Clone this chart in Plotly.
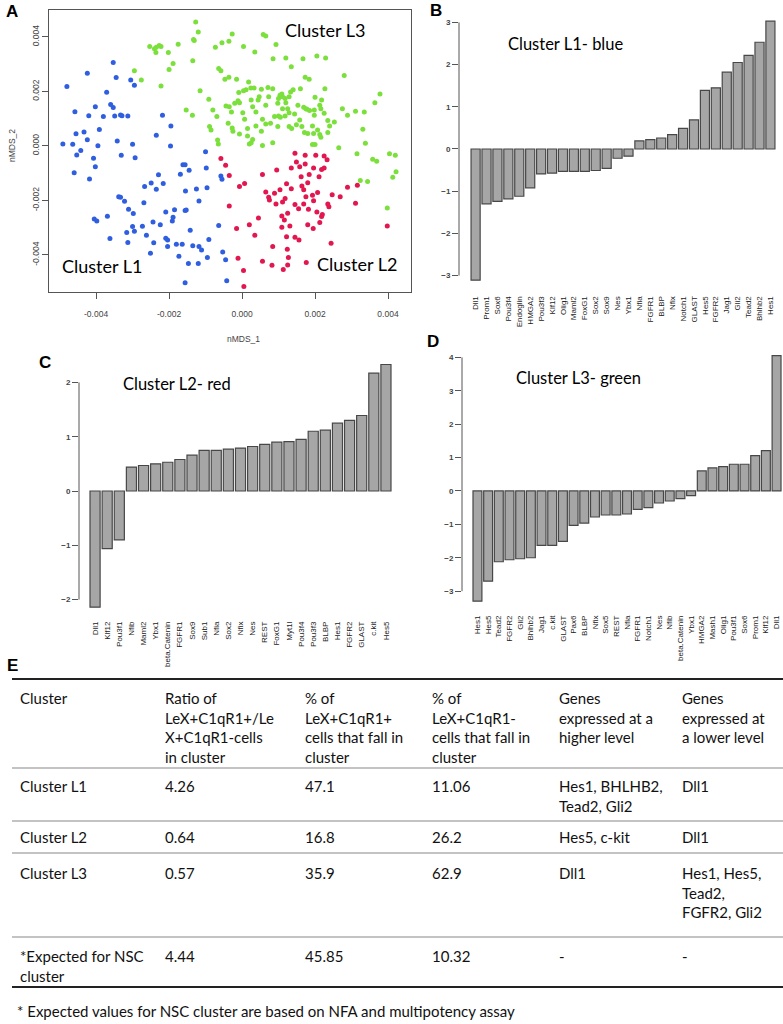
import plotly.graph_objects as go

# ---------------- DATA ----------------
# Panel A: nMDS coordinates (units of 1e-3)
blue_x = [-4.80,-4.24,-3.53,-3.45,-3.05,-2.95,-3.71,-4.58,-4.20,-4.02,
          -3.80,-3.60,-3.53,-3.49,-3.33,-3.29,-3.13,-2.18,-4.55,-4.33,
          -3.91,-4.24,-4.91,-4.64,-3.95,-3.42,-3.00,-4.53,-4.42,-4.07,
          -4.02,-4.60,-4.18,-3.31,-2.93,-2.35,-1.95,-1.96,-1.00,-1.62,
          -1.56,-1.69,-1.45,-2.29,-2.16,-2.67,-2.49,-2.35,-1.55,-1.25,
          -0.96,-0.98,-1.18,-0.58,-0.55,-3.38,-3.33,-3.22,-3.11,-2.98,
          -2.69,-1.85,-2.09,-1.89,-1.91,-1.53,-1.56,-3.69,-4.05,-3.98,
          -3.00,-2.95,-2.73,-3.16,-2.44,-2.24,-2.62,-2.42,-2.09,-2.04,
          -2.04,-1.80,-1.64,-1.42,-1.35,-1.18,-1.11,-3.62,-3.13,-2.51,
          -1.73,-1.47,-1.20,-0.95,-0.91,-0.53,-0.45,-0.42,-1.56,-0.64]
blue_y = [2.18,2.67,3.06,2.51,2.42,2.23,1.97,1.26,1.11,1.44,
          1.08,1.52,1.41,1.10,1.14,1.11,1.10,1.13,0.45,0.51,
          0.60,0.23,0.07,0.06,0.01,0.18,0.06,-0.33,-0.17,-0.45,
          -0.76,-0.98,-1.21,-0.34,-0.43,0.39,0.73,0.00,-0.21,-0.69,
          -0.69,-1.04,-0.89,-1.06,-1.38,-1.49,-1.36,-1.59,-1.65,-1.58,
          -1.53,-0.81,-2.02,-1.10,-1.22,-1.86,-1.88,-2.03,-2.32,-2.48,
          -2.08,-2.34,-2.42,-2.62,-2.75,-2.35,-2.37,-2.58,-2.68,-2.75,
          -2.96,-3.13,-2.95,-3.18,-2.79,-2.89,-3.28,-3.55,-3.39,-3.45,
          -3.69,-3.61,-3.61,-3.09,-3.66,-3.69,-3.82,-3.40,-3.54,-3.94,
          -4.05,-4.31,-4.31,-4.09,-3.43,-3.89,-4.18,-4.95,-5.02,-2.92]

red_x = [-0.58,-0.45,-0.35,-0.07,0.07,-0.35,-0.15,0.20,0.35,0.45,
         0.56,0.65,0.73,0.89,0.95,0.75,0.93,1.11,1.04,1.18,
         1.22,1.35,1.35,1.45,1.49,1.58,1.62,1.73,1.73,1.84,
         1.96,2.02,2.11,2.18,2.25,2.33,2.25,1.64,1.69,1.80,
         1.93,2.07,1.96,1.75,1.25,1.45,1.55,1.69,1.82,2.05,
         2.20,2.35,2.38,2.47,2.69,2.89,3.16,3.11,2.18,2.13,
         1.80,1.95,1.31,1.22,1.45,1.56,1.09,1.16,1.09,0.84,
         1.24,1.27,1.25,1.13,0.82,0.56,-0.11,0.04,0.05,1.76,
         2.44,3.98]
red_y = [-0.46,-0.71,-1.08,-1.49,-1.38,-2.20,-3.03,-2.89,-3.28,-2.64,
         -1.05,-1.69,-1.88,-1.74,-0.88,-1.98,-2.13,-2.06,-1.61,-1.93,
         -1.39,-1.57,-0.81,-0.27,-0.59,-0.76,-1.13,-0.34,-0.66,-1.05,
         -0.81,-0.34,-1.13,-0.86,-0.37,-0.51,-0.81,-1.47,-1.61,-1.35,
         -1.81,-1.71,-2.01,-1.86,-2.47,-2.15,-2.30,-2.13,-2.32,-2.42,
         -2.52,-2.13,-2.23,-1.79,-1.86,-1.52,-1.44,-2.10,-2.59,-2.81,
         -2.89,-3.03,-2.94,-3.33,-3.35,-3.45,-2.57,-2.72,-2.98,-3.69,
         -3.79,-4.09,-4.37,-4.53,-4.38,-4.23,-4.12,-4.57,-5.16,-4.28,
         -3.57,-2.94]

green_x = [-1.27,-1.20,-1.33,-1.31,-1.75,-2.27,-2.35,-2.22,-2.53,-2.40,
           -2.36,-2.02,-1.89,-2.00,-2.95,-2.76,-2.22,-1.35,-0.73,-0.55,
           -0.36,-0.27,-0.64,-0.58,-0.47,-0.36,-0.15,0.04,0.35,0.58,
           0.65,0.93,0.85,1.20,1.35,1.67,2.05,2.29,2.80,-1.15,
           -0.91,-1.53,-1.36,-0.44,-0.29,-0.20,-0.11,-0.09,0.04,0.11,
           0.18,0.24,0.33,0.53,0.71,0.84,0.73,1.00,1.04,1.11,
           1.18,1.09,1.20,1.33,1.40,1.60,1.84,1.73,2.27,1.53,
           1.69,1.78,1.85,1.98,2.13,2.16,2.00,2.18,2.25,1.25,
           1.11,1.00,0.89,1.05,1.18,1.29,1.44,0.65,0.44,0.29,
           0.38,0.56,0.02,-0.07,-0.35,-0.89,-0.85,-0.38,-0.25,-0.07,
           0.15,0.15,0.38,0.53,0.65,0.78,0.98,1.29,1.36,1.64,
           1.71,1.80,1.93,1.96,2.07,2.13,2.16,2.00,2.35,2.40,
           2.35,2.53,2.75,2.89,3.11,3.35,3.64,3.78,3.15,3.31,
           3.38,2.65,3.58,3.69,4.04,4.20,4.13,4.22,3.24,3.44,
           3.98,-0.67,-0.65,0.20,0.25,0.56,0.84,0.29,0.07,-0.80,
           -0.69,-0.27,1.93,1.98,1.75,1.58,1.49,1.29,0.98,0.47,
           0.25]
green_y = [4.55,4.18,3.91,3.87,3.73,3.69,3.62,3.65,3.65,3.57,
           3.43,3.43,3.03,2.81,2.76,2.42,2.20,3.13,3.62,3.79,
           3.84,4.11,2.84,2.76,2.45,2.52,2.45,3.65,3.45,4.09,
           4.04,3.72,3.20,3.23,2.91,3.20,3.30,3.23,2.59,2.03,
           1.71,1.32,1.13,1.47,1.25,1.57,1.66,1.96,2.03,2.06,
           2.35,2.13,2.13,2.08,2.15,2.10,1.81,1.74,1.86,1.81,
           1.74,1.91,1.59,1.98,2.06,2.10,2.45,2.52,2.10,1.49,
           1.42,1.35,1.30,1.32,1.49,1.37,1.79,1.69,1.20,1.37,
           1.37,1.10,1.08,1.05,1.10,1.22,1.17,1.49,1.69,1.44,
           1.25,0.98,1.22,1.59,1.44,0.71,0.59,0.83,0.54,0.44,
           0.64,0.37,0.73,0.54,0.81,0.83,0.71,0.71,0.64,0.71,
           0.49,0.46,0.73,0.46,0.59,0.42,0.32,0.05,0.93,0.73,
           0.49,0.88,1.37,1.13,1.27,1.25,1.59,1.91,-0.29,0.61,
           0.10,-0.07,-0.49,-0.56,-0.29,-0.34,-1.15,-0.95,-1.27,-1.30,
           -2.28,0.22,0.07,0.07,0.12,0.02,0.12,0.24,0.98,1.32,
           1.08,0.66,0.05,1.13,1.37,0.95,0.78,1.81,1.57,1.81,
           1.69]

mds_ticks = [-4, -2, 0, 2, 4]
mds_ticktext = ["-0.004", "-0.002", "0.000", "0.002", "0.004"]

# Panel B: Cluster L1
b_genes = ["Dll1","Prom1","Sox6","Pou3f4","Endoglin","HMGA2","Pou3f3","Klf12","Olig1","Maml2",
           "FoxG1","Sox2","Sox9","Nes","Ybx1","Nfia","FGFR1","BLBP","Nfix","Notch1",
           "GLAST","Hes5","FGFR2","Jag1","Gli2","Tead2","Bhlhb2","Hes1"]
b_vals = [-3.11,-1.30,-1.24,-1.18,-1.12,-0.92,-0.59,-0.57,-0.53,-0.53,
          -0.53,-0.51,-0.46,-0.22,-0.17,0.19,0.22,0.26,0.34,0.49,
          0.69,1.39,1.45,1.82,2.05,2.22,2.53,3.03]

# Panel C: Cluster L2
c_genes = ["Dll1","Klf12","Pou3f1","Nfib","Maml2","Ybx1","beta.Catenin","FGFR1","Sox9","Sub1",
           "Nfia","Sox2","Nfix","Nes","REST","FoxG1","Myt1l","Pou3f4","Pou3f3","BLBP",
           "Hes1","FGFR2","GLAST","c.kit","Hes5"]
c_vals = [-2.14,-1.06,-0.90,0.44,0.47,0.50,0.53,0.58,0.66,0.75,
          0.75,0.77,0.79,0.82,0.86,0.90,0.91,0.95,1.10,1.12,
          1.25,1.30,1.39,2.17,2.33]

# Panel D: Cluster L3
d_genes = ["Hes1","Hes5","Tead2","FGFR2","Gli2","Bhlhb2","Jag1","c.kit","GLAST","Pax6",
           "BLBP","Nfix","Sox5","REST","Nfia","FGFR1","Notch1","Nes","Nfib","beta.Catenin",
           "Ybx1","HMGA2","Mash1","Olig1","Pou3f1","Sox6","Prom1","Klf12","Dll1"]
d_vals = [-3.30,-2.70,-2.12,-2.06,-2.03,-2.00,-1.63,-1.63,-1.51,-1.03,
          -0.96,-0.78,-0.72,-0.72,-0.69,-0.55,-0.50,-0.36,-0.30,-0.23,
          -0.14,0.60,0.69,0.73,0.80,0.80,1.06,1.21,4.05]

# Panel E: table
table_header = ["Cluster",
                "Ratio of<br>LeX+C1qR1+/Le<br>X+C1qR1-cells<br>in cluster",
                "% of<br>LeX+C1qR1+<br>cells that fall in<br>cluster",
                "% of<br>LeX+C1qR1-<br>cells that fall in<br>cluster",
                "Genes<br>expressed at a<br>higher level",
                "Genes<br>expressed at<br>a lower level"]
table_rows = [
    ["Cluster L1", "4.26", "47.1", "11.06", "Hes1, BHLHB2,<br>Tead2, Gli2", "Dll1"],
    ["Cluster L2", "0.64", "16.8", "26.2", "Hes5, c-kit", "Dll1"],
    ["Cluster L3", "0.57", "35.9", "62.9", "Dll1", "Hes1, Hes5,<br>Tead2,<br>FGFR2, Gli2"],
    ["*Expected for NSC<br>cluster", "4.44", "45.85", "10.32", "-", "-"],
]
footnote = "* Expected values for NSC cluster are based on NFA and multipotency assay"

# ---------------- LAYOUT HELPERS ----------------
W, H = 783, 1024
def fx(p):
    return p / W
def fy(p):
    return 1 - p / H

TXT = "Lato"
AX = "Liberation Sans"

fig = go.Figure()

# Panel A scatter
for xs, ys, col in [(blue_x, blue_y, "#2F5FE0"), (green_x, green_y, "#7BE03C"), (red_x, red_y, "#E3174F")]:
    fig.add_trace(go.Scatter(x=xs, y=ys, mode="markers", xaxis="x", yaxis="y",
                             marker=dict(size=5, color=col, line=dict(width=0)),
                             showlegend=False, hoverinfo="skip"))

bar_style = dict(color="#A6A6A6", line=dict(color="#474747", width=1.2))
fig.add_trace(go.Bar(x=b_genes, y=b_vals, xaxis="x2", yaxis="y2", marker=bar_style, showlegend=False))
fig.add_trace(go.Bar(x=c_genes, y=c_vals, xaxis="x3", yaxis="y3", marker=bar_style, showlegend=False))
fig.add_trace(go.Bar(x=d_genes, y=d_vals, xaxis="x4", yaxis="y4", marker=bar_style, showlegend=False))

tickfont_small = dict(family=AX, size=8.5, color="#444")
common = dict(showgrid=False, zeroline=False, automargin=False)

layout = dict(
    width=W, height=H, template="none", autosize=False,
    margin=dict(l=0, r=0, t=0, b=0),
    paper_bgcolor="white", plot_bgcolor="white",
    bargap=0.167, showlegend=False, hovermode=False,
    xaxis=dict(domain=[fx(49), fx(411)], range=[-5.29, 4.63], anchor="y",
               tickvals=mds_ticks, ticktext=mds_ticktext, ticks="outside", ticklen=6,
               tickcolor="#555", showline=True, mirror=True, linecolor="#555", linewidth=1,
               tickfont=tickfont_small, ticklabelstandoff=8, **common),
    yaxis=dict(domain=[fy(292), fy(10)], range=[-5.36, 4.99], anchor="x",
               tickvals=mds_ticks, ticktext=mds_ticktext, ticks="outside", ticklen=6,
               tickcolor="#555", showline=True, mirror=True, linecolor="#555", linewidth=1,
               tickangle=-90, tickfont=tickfont_small, **common),
)

bar_yfont = dict(family=AX, size=8, color="#444", weight="bold")
bar_xfont = dict(family=AX, size=8, color="#1a1a1a")

panels = [
    ("2", [fx(459), fx(775.9)], [-1.52, 27.5], [fy(291.6), fy(10.6)], [-3.38, 3.28], [-3, -2, -1, 0, 1, 2, 3]),
    ("3", [fx(79), fx(392)], [-1.325, 24.5], [fy(617), fy(354.7)], [-2.32, 2.51], [-2, -1, 0, 1, 2]),
    ("4", [fx(462), fx(781.9)], [-1.446, 28.5], [fy(611), fy(345.9)], [-3.594, 4.344], [-3, -2, -1, 0, 1, 2, 3, 4]),
]
shapes = []
for k, xd, xr, yd, yr, tv in panels:
    layout["xaxis" + k] = dict(domain=xd, range=xr, anchor="y" + k, type="category",
                               tickangle=-90, tickfont=bar_xfont, ticks="", showline=False,
                               ticklabelstandoff=2, **common)
    layout["yaxis" + k] = dict(domain=yd, range=yr, anchor="x" + k, tickvals=tv,
                               ticks="outside", ticklen=6, tickcolor="#555", showline=False,
                               tickfont=bar_yfont, **common)
    shapes.append(dict(type="line", xref="x" + k + " domain", yref="y" + k,
                       x0=0, x1=0, y0=tv[0], y1=tv[-1], line=dict(color="#555", width=1)))

def ann(text, x, y, size, family=TXT, xanchor="center", yanchor="middle", color="#000", angle=0, align="center"):
    return dict(text=text, x=fx(x), y=fy(y), xref="paper", yref="paper", showarrow=False,
                font=dict(family=family, size=size, color=color), xanchor=xanchor,
                yanchor=yanchor, textangle=angle, align=align)

annotations = [
    ann("<b>A</b>", 12, 11, 17, family=AX),
    ann("<b>B</b>", 436, 10, 17, family=AX),
    ann("<b>C</b>", 45, 362, 17, family=AX),
    ann("<b>D</b>", 433, 341, 17, family=AX),
    ann("<b>E</b>", 12, 665, 17, family=AX),
    ann("Cluster L3", 325, 30, 18),
    ann("Cluster L1", 102, 266, 18),
    ann("Cluster L2", 357, 264, 18),
    ann("nMDS_1", 243, 339, 8.5, family=AX, color="#444"),
    ann("nMDS_2", 12, 146, 8.5, family=AX, color="#444", angle=-90),
    ann("Cluster L1- blue", 565, 44, 16.5),
    ann("Cluster L2- red", 177, 384, 16.5),
    ann("Cluster L3- green", 578, 378, 16.5),
]

col_x = [18, 163, 303, 430, 557, 680]
row_first_y = [697, 785, 836, 872, 955]
TFS = 15
for r, cells in enumerate([table_header] + table_rows):
    for c, txt in enumerate(cells):
        annotations.append(ann(txt, col_x[c], row_first_y[r] - 10.5, TFS, xanchor="left",
                               yanchor="top", color="#111", align="left"))
annotations.append(ann(footnote, 15, 1011, TFS, xanchor="left", color="#111"))

for y, w, col in [(679, 2, "#222"), (768, 1.2, "#888"), (821, 1.2, "#888"), (853, 1.2, "#888"),
                  (937, 1.2, "#888"), (987, 2, "#222")]:
    shapes.append(dict(type="line", xref="paper", yref="paper", x0=fx(12), x1=fx(783),
                       y0=fy(y), y1=fy(y), line=dict(color=col, width=w)))

layout["shapes"] = shapes
layout["annotations"] = annotations
fig.update_layout(**layout)

fig.write_html("out.html",
               config={"displayModeBar": False},
               post_script="document.body.style.margin='0px';document.body.style.overflow='hidden';")
